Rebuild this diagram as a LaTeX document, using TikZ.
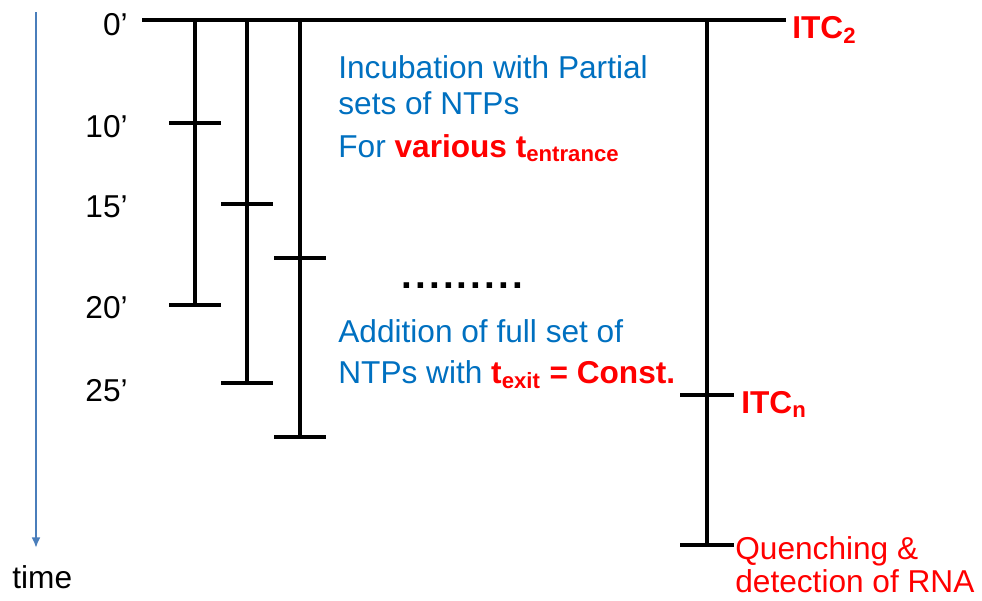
\documentclass[tikz,border=0pt]{standalone}
\usepackage{fontspec}
\setmainfont{Liberation Sans}
\usepackage{tikz}
\usetikzlibrary{arrows.meta}
\usepackage{xcolor}
\definecolor{NoteBlue}{RGB}{0,112,192}
\definecolor{AxisBlue}{RGB}{74,126,187}
\definecolor{NoteRed}{RGB}{255,0,0}

\begin{document}
\begin{tikzpicture}[x=0.02cm,y=-0.02cm,
  bar/.style={line width=1.8pt,black},
  mins/.style={anchor=base east,inner sep=0pt,font=\fontsize{18}{22}\selectfont},
  note/.style={anchor=base west,inner sep=0pt,text=NoteBlue,font=\fontsize{18}{22}\selectfont},
  itc/.style={anchor=base west,inner sep=0pt,text=NoteRed,font=\fontsize{18}{22}\selectfont\bfseries},
  quench/.style={anchor=base west,inner sep=0pt,text=NoteRed,font=\fontsize{18}{22}\selectfont},
]
\useasboundingbox (0,0) rectangle (982,600);

% time axis
\coordinate (tstart) at (36,12);
\coordinate (tend) at (36,548);
\draw[AxisBlue,line width=1.3pt,-{Latex[length=6pt,width=5pt]}] (tstart) -- (tend);
\node[anchor=base west,inner sep=0pt,font=\fontsize{18}{22}\selectfont] (time) at (12,588) {time};

\node[mins] (m0) at (128,35) {0’};
\node[mins] (m10) at (128,137) {10’};
\node[mins] (m15) at (128,217) {15’};
\node[mins] (m20) at (128,318) {20’};
\node[mins] (m25) at (128,401) {25’};

% start line and bars
\coordinate (start) at (142,20);
\coordinate (stop) at (786,20);
\draw[bar] (start) -- (stop);

\coordinate (b1top) at (195,20);
\coordinate (b1in) at (195,123);
\coordinate (b1out) at (195,305);
\coordinate (b2top) at (247,20);
\coordinate (b2in) at (247,204);
\coordinate (b2out) at (247,383);
\coordinate (b3top) at (300,20);
\coordinate (b3in) at (300,258);
\coordinate (b3out) at (300,437);
\coordinate (rtop) at (707,20);
\coordinate (rn) at (707,395);
\coordinate (rq) at (707,545);

\draw[bar] (b1top) -- (b1out);
\draw[bar] (b2top) -- (b2out);
\draw[bar] (b3top) -- (b3out);
\draw[bar] (rtop) -- (rq);

\draw[bar] (b1in) ++(-26,0) -- ++(52,0);
\draw[bar] (b1out) ++(-26,0) -- ++(52,0);
\draw[bar] (b2in) ++(-26,0) -- ++(52,0);
\draw[bar] (b2out) ++(-26,0) -- ++(52,0);
\draw[bar] (b3in) ++(-26,0) -- ++(52,0);
\draw[bar] (b3out) ++(-26,0) -- ++(52,0);
\draw[bar] (rn) ++(-27,0) -- ++(54,0);
\draw[bar] (rq) ++(-27,0) -- ++(54,0);

% texts
\node[note] (inc1) at (338,78) {Incubation with Partial};
\node[note] (inc2) at (338,114) {sets of NTPs};
\node[note] (inc3) at (338,157) {For \textcolor{NoteRed}{\bfseries various t\textsubscript{entrance}}};
\node[anchor=base west,inner sep=0pt,font=\fontsize{22}{22}\selectfont\bfseries] (gap) at (401,288)
  {.\kern1.8pt.\kern1.8pt.\kern1.8pt.\kern1.8pt.\kern1.8pt.\kern1.8pt.\kern1.8pt.\kern1.8pt.};
\node[note] (add1) at (338,342) {Addition of full set of};
\node[note] (add2) at (338,383) {NTPs with \textcolor{NoteRed}{\bfseries t\textsubscript{exit} = Const.}};

\node[itc] (itc2) at (792,38) {ITC\textsubscript{2}};
\node[itc] (itcn) at (741,413) {ITC\textsubscript{n}};
\node[quench] (q1) at (735,559) {Quenching \&};
\node[quench] (q2) at (735,592) {detection of RNA};
\end{tikzpicture}
\end{document}
